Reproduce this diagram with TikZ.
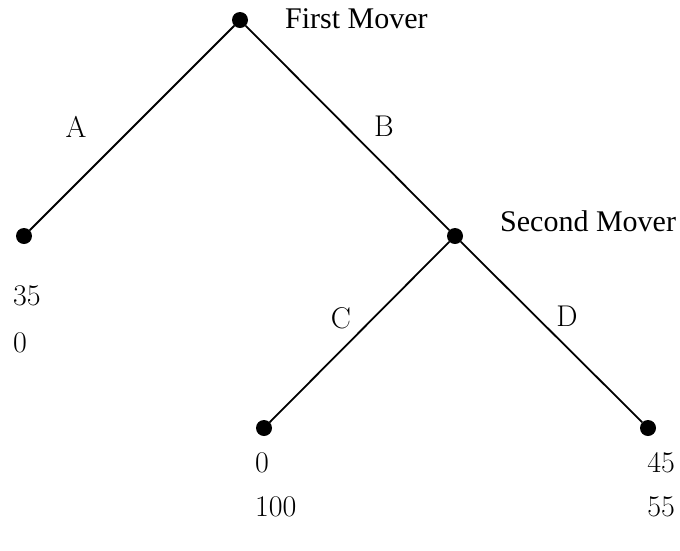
\documentclass[tikz,border=0pt]{standalone}
\usepackage{fontspec}
\newfontfamily\namefont{Liberation Serif}
\begin{document}
\begin{tikzpicture}[x=1pt,y=-1pt,
  dot/.style={circle,fill=black,inner sep=0pt,minimum size=16pt},
  edge/.style={line width=1.8pt},
  lbl/.style={font=\fontsize{30}{32}\selectfont,inner sep=0pt},
  who/.style={font=\namefont\fontsize{30}{32}\selectfont,anchor=base west,inner sep=0pt}]
\useasboundingbox (0,0) rectangle (680,550);
\node[dot] (r) at (240,20) {};
\node[dot] (a) at (24,236) {};
\node[dot] (s) at (455,236) {};
\node[dot] (c) at (264,428) {};
\node[dot] (d) at (648,428) {};
\draw[edge] (r) -- (a);
\draw[edge] (r) -- (s);
\draw[edge] (s) -- (c);
\draw[edge] (s) -- (d);
\node[who] (fm) at (285,28) {First Mover};
\node[who] (sm) at (500,231) {Second Mover};
\node[lbl] (la) at (76,127) {A};
\node[lbl] (lb) at (384,126) {B};
\node[lbl] (lc) at (341,318) {C};
\node[lbl] (ld) at (567,316) {D};
\node[lbl,anchor=west] (pa1) at (13,296) {35};
\node[lbl,anchor=west] (pa2) at (13,343) {0};
\node[lbl,anchor=west] (pc1) at (255,463) {0};
\node[lbl,anchor=west] (pc2) at (255,507) {100};
\node[lbl,anchor=east] (pd1) at (675,463) {45};
\node[lbl,anchor=east] (pd2) at (675,507) {55};
\end{tikzpicture}
\end{document}
